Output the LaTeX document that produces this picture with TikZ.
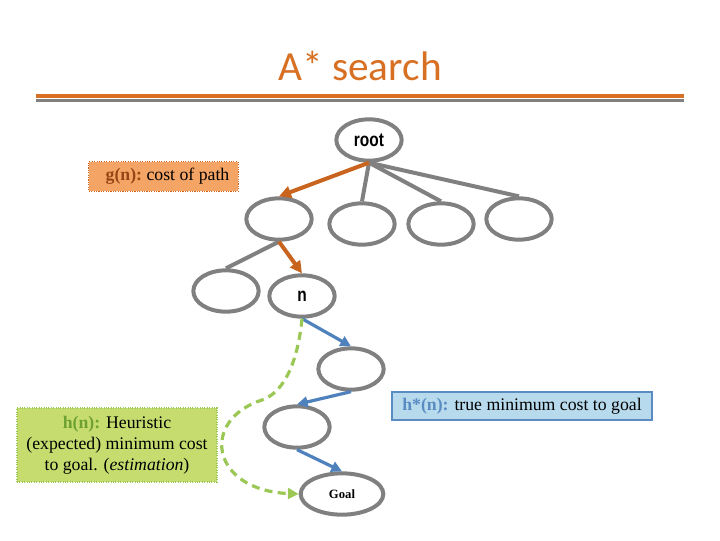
\documentclass[tikz,border=0pt]{standalone}
\usepackage{fontspec}
\setmainfont{Liberation Serif}
\newfontfamily\titlefont{Carlito}
\newfontfamily\narrowfont[FakeStretch=0.8]{Liberation Sans}
\usetikzlibrary{shapes.geometric,arrows.meta}
\definecolor{titleorange}{RGB}{215,112,35}
\definecolor{pathorange}{RGB}{200,100,30}
\definecolor{treegray}{RGB}{128,128,128}
\definecolor{stepblue}{RGB}{79,129,189}
\definecolor{guessgreen}{RGB}{155,200,85}
\definecolor{gfill}{RGB}{244,164,100}
\definecolor{gtext}{RGB}{150,70,20}
\definecolor{hfill}{RGB}{198,220,110}
\definecolor{htext}{RGB}{110,160,50}
\definecolor{hsfill}{RGB}{183,218,236}
\definecolor{hsdraw}{RGB}{90,140,195}
\begin{document}
\begin{tikzpicture}[x=0.75pt,y=-0.75pt,
    tnode/.style={ellipse, draw=treegray, line width=3pt, minimum width=49pt,
        minimum height=31pt, inner sep=0pt,
        font=\narrowfont\bfseries\fontsize{14.5}{14.5}\selectfont},
    treeline/.style={treegray, line width=3pt},
    costarrow/.style={pathorange, line width=3pt, -{Triangle[length=9pt,width=9pt]}},
    truearrow/.style={stepblue, line width=2.4pt, -{Triangle[length=8pt,width=8pt]}},
    guessarrow/.style={guessgreen, line width=2.4pt, dash pattern=on 6pt off 4pt,
        -{Triangle[length=8pt,width=8pt]}},
    infobox/.style={inner sep=0pt, align=center, font=\fontsize{13.3}{15.8}\selectfont}]
    \useasboundingbox (0,0) rectangle (720,540);

    % title and rules
    \node[anchor=base, text=titleorange, font=\titlefont\fontsize{31}{31}\selectfont]
        (title) at (360,80) {A* search};
    \draw[titleorange, line width=3pt] (36,96) -- (684,96);
    \draw[treegray, line width=2.4pt] (36,100.8) -- (684,100.8);

    % tree
    \node[tnode] (root) at (369,140) {root};
    \node[tnode] (a1) at (279,219) {};
    \node[tnode] (a2) at (362,224) {};
    \node[tnode] (a3) at (441,224) {};
    \node[tnode] (a4) at (519,219) {};
    \node[tnode] (b1) at (226,291) {};
    \node[tnode] (n) at (302,296) {n};
    \node[tnode] (c1) at (351,369) {};
    \node[tnode] (c2) at (297,427) {};
    \node[tnode, minimum width=62pt, font=\bfseries\fontsize{9.5}{9.5}\selectfont]
        (goal) at (342,494) {Goal};

    \foreach \k in {a2,a3,a4} \draw[treeline] (root.south) -- (\k.north);
    \draw[treeline] (a1.south) -- (b1.north);
    \draw[costarrow] (root.south) -- (a1.north);
    \draw[costarrow] (a1.south) -- (n.north);

    \draw[truearrow] (n.south) -- (c1.north);
    \draw[truearrow] (c1.south) -- (c2.north);
    \draw[truearrow] (c2.south) -- (goal.north);

    \draw[guessarrow] (n.south) .. controls (298,360) and (285,392) .. (262,400)
        .. controls (200,420) and (210,490) .. (goal.west);

    % labels
    \node[infobox, fill=gfill, draw=pathorange, densely dotted, line width=0.8pt,
        minimum width=112pt, minimum height=22pt] (gbox) at (163.5,176.5)
        {\hspace*{6pt}\textcolor{gtext}{\textbf{g(n):}}~cost of path};
    \node[infobox, fill=hfill, draw=guessgreen, densely dotted, line width=0.8pt,
        minimum width=150pt, minimum height=55.5pt] (hbox) at (117,445)
        {\textcolor{htext}{\textbf{h(n):}} Heuristic\\(expected) minimum cost\\to goal. (\textit{estimation})};
    \node[infobox, fill=hsfill, draw=hsdraw, line width=1.4pt,
        minimum width=195pt, minimum height=21pt] (hsbox) at (522,406)
        {\textcolor{hsdraw}{\textbf{h*(n):}} true minimum cost to goal};
\end{tikzpicture}
\end{document}
